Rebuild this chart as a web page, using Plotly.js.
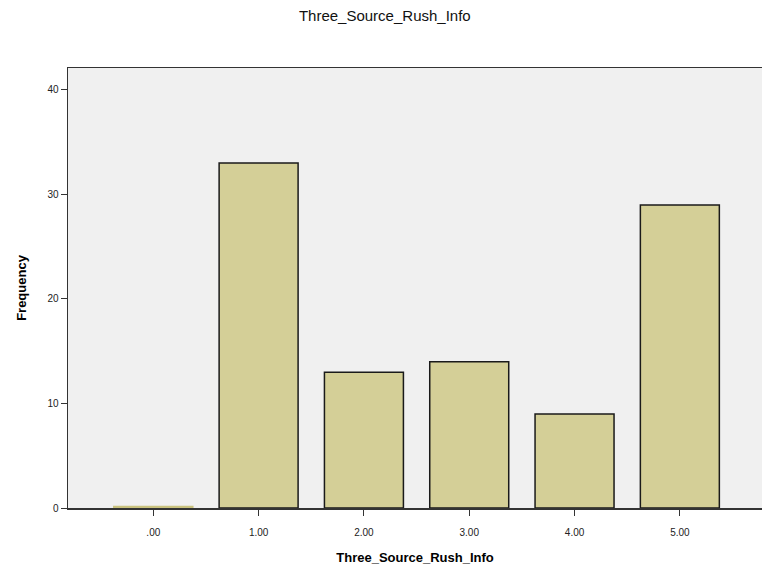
<!DOCTYPE html>
<html>
<head>
<meta charset="utf-8">
<script src="https://cdn.plot.ly/plotly-3.0.1.min.js"></script>
<style>html,body{margin:0;padding:0;background:#fff;}#chart{width:762px;height:571px;}</style>
</head>
<body>
<div id="chart"></div>
<script>
const categories = [".00", "1.00", "2.00", "3.00", "4.00", "5.00"];
const frequencies = [0.15, 33, 13, 14, 9, 29];
const yTicks = [0, 10, 20, 30, 40];

const trace = {
  type: "bar",
  x: categories,
  y: frequencies,
  marker: {
    color: "#d4cf97",
    line: {color: ["#c9c27e", "#1a1a1a", "#1a1a1a", "#1a1a1a", "#1a1a1a", "#1a1a1a"], width: 1.5}
  },
  hoverinfo: "x+y"
};

const layout = {
  width: 762,
  height: 571,
  paper_bgcolor: "#ffffff",
  plot_bgcolor: "#f0f0f0",
  margin: {l: 68, r: 0, t: 68, b: 63},
  bargap: 0.25,
  showlegend: false,
  font: {family: "Liberation Sans, Arial, sans-serif", color: "#000"},
  title: {
    text: "Three_Source_Rush_Info",
    font: {size: 15, family: "Liberation Sans, Arial, sans-serif", color: "#111"},
    x: 0.505, xref: "container", xanchor: "center",
    y: 0.972, yref: "container", yanchor: "middle"
  },
  xaxis: {
    type: "category",
    range: [-0.81, 5.78],
    showline: true, linecolor: "#333", linewidth: 1.5, mirror: true,
    ticks: "outside", ticklen: 6, tickwidth: 1, tickcolor: "#333",
    ticklabelstandoff: 8,
    tickfont: {size: 10, color: "#222"},
    showgrid: false, zeroline: false,
    title: {text: "Three_Source_Rush_Info", font: {size: 13, color: "#000", weight: "bold"}, standoff: 16},
    automargin: false
  },
  yaxis: {
    range: [0, 42.1],
    tickvals: yTicks,
    showline: true, linecolor: "#333", linewidth: 1.5,
    ticks: "outside", ticklen: 6, tickwidth: 1, tickcolor: "#333",
    tickfont: {size: 10, color: "#222"},
    showgrid: false, zeroline: false,
    title: {text: "Frequency", font: {size: 13, color: "#000", weight: "bold"}, standoff: 18},
    automargin: false
  }
};

Plotly.newPlot("chart", [trace], layout, {displayModeBar: false, staticPlot: true});
</script>
</body>
</html>
